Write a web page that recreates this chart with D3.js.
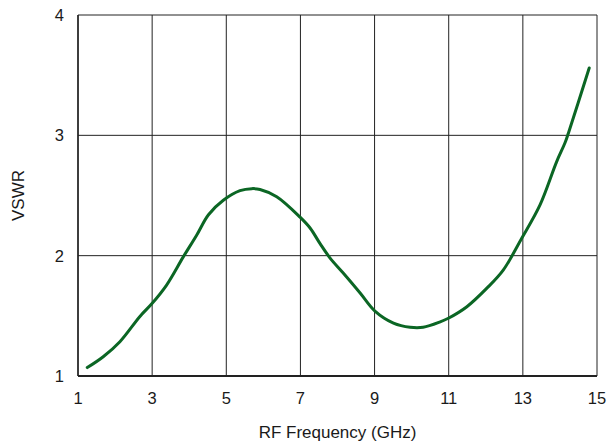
<!DOCTYPE html>
<html><head><meta charset="utf-8">
<script src="https://cdn.jsdelivr.net/npm/d3@7"></script>
<style>body{margin:0;background:#fff}svg{display:block}text{font-family:"Liberation Sans",Arial,sans-serif;fill:#1a1a1a}</style>
</head><body><svg id="c" width="608" height="445"></svg>
<script>
const freq = [1.25,1.68,2.13,2.67,2.99,3.39,3.84,4.20,4.52,4.92,5.37,5.69,5.91,6.36,6.99,7.26,7.53,7.80,8.16,8.61,9.01,9.51,9.96,10.31,10.77,10.99,11.49,12.03,12.47,12.97,13.46,13.91,14.14,14.23,14.79];
const vswr = [1.07,1.16,1.285,1.495,1.60,1.756,1.99,2.17,2.34,2.46,2.54,2.557,2.55,2.49,2.32,2.23,2.10,1.98,1.854,1.69,1.54,1.44,1.405,1.405,1.45,1.48,1.576,1.73,1.88,2.145,2.42,2.78,2.94,3.02,3.56];
const xTicks = [1,3,5,7,9,11,13,15];
const yTicks = [1,2,3,4];

const svg = d3.select("#c");
const L=78,R=597,T=15,B=376;
const x = d3.scaleLinear().domain([1,15]).range([L,R]);
const y = d3.scaleLinear().domain([1,4]).range([B,T]);

const g = svg.append("g");
g.selectAll(".vg").data(xTicks).join("line").attr("x1",d=>x(d)).attr("x2",d=>x(d)).attr("y1",T).attr("y2",B).attr("stroke","#222").attr("stroke-width",1);
g.selectAll(".hg").data(yTicks).join("line").attr("y1",d=>y(d)).attr("y2",d=>y(d)).attr("x1",L).attr("x2",R).attr("stroke","#222").attr("stroke-width",1);
g.append("line").attr("x1",L).attr("x2",R).attr("y1",B).attr("y2",B).attr("stroke","#222").attr("stroke-width",2);
g.append("line").attr("x1",L).attr("x2",L).attr("y1",T).attr("y2",B).attr("stroke","#222").attr("stroke-width",1.5);

svg.selectAll(".xt").data(xTicks).join("text").attr("x",d=>x(d)).attr("y",B+28).attr("text-anchor","middle").attr("font-size",16.5).text(d=>d);
svg.selectAll(".yt").data(yTicks).join("text").attr("x",L-14).attr("y",d=>y(d)+6).attr("text-anchor","end").attr("font-size",16.5).text(d=>d);

svg.append("text").attr("x",(L+R)/2).attr("y",438).attr("text-anchor","middle").attr("font-size",17).text("RF Frequency (GHz)");
svg.append("text").attr("transform",`translate(24,${(T+B)/2}) rotate(-90)`).attr("text-anchor","middle").attr("font-size",17).text("VSWR");

const line = d3.line().x((d,i)=>x(freq[i])).y(d=>y(d)).curve(d3.curveCatmullRom.alpha(0.5));
svg.append("path").datum(vswr).attr("d",line).attr("fill","none").attr("stroke","#0b6624").attr("stroke-width",3).attr("stroke-linecap","round");
</script></body></html>
